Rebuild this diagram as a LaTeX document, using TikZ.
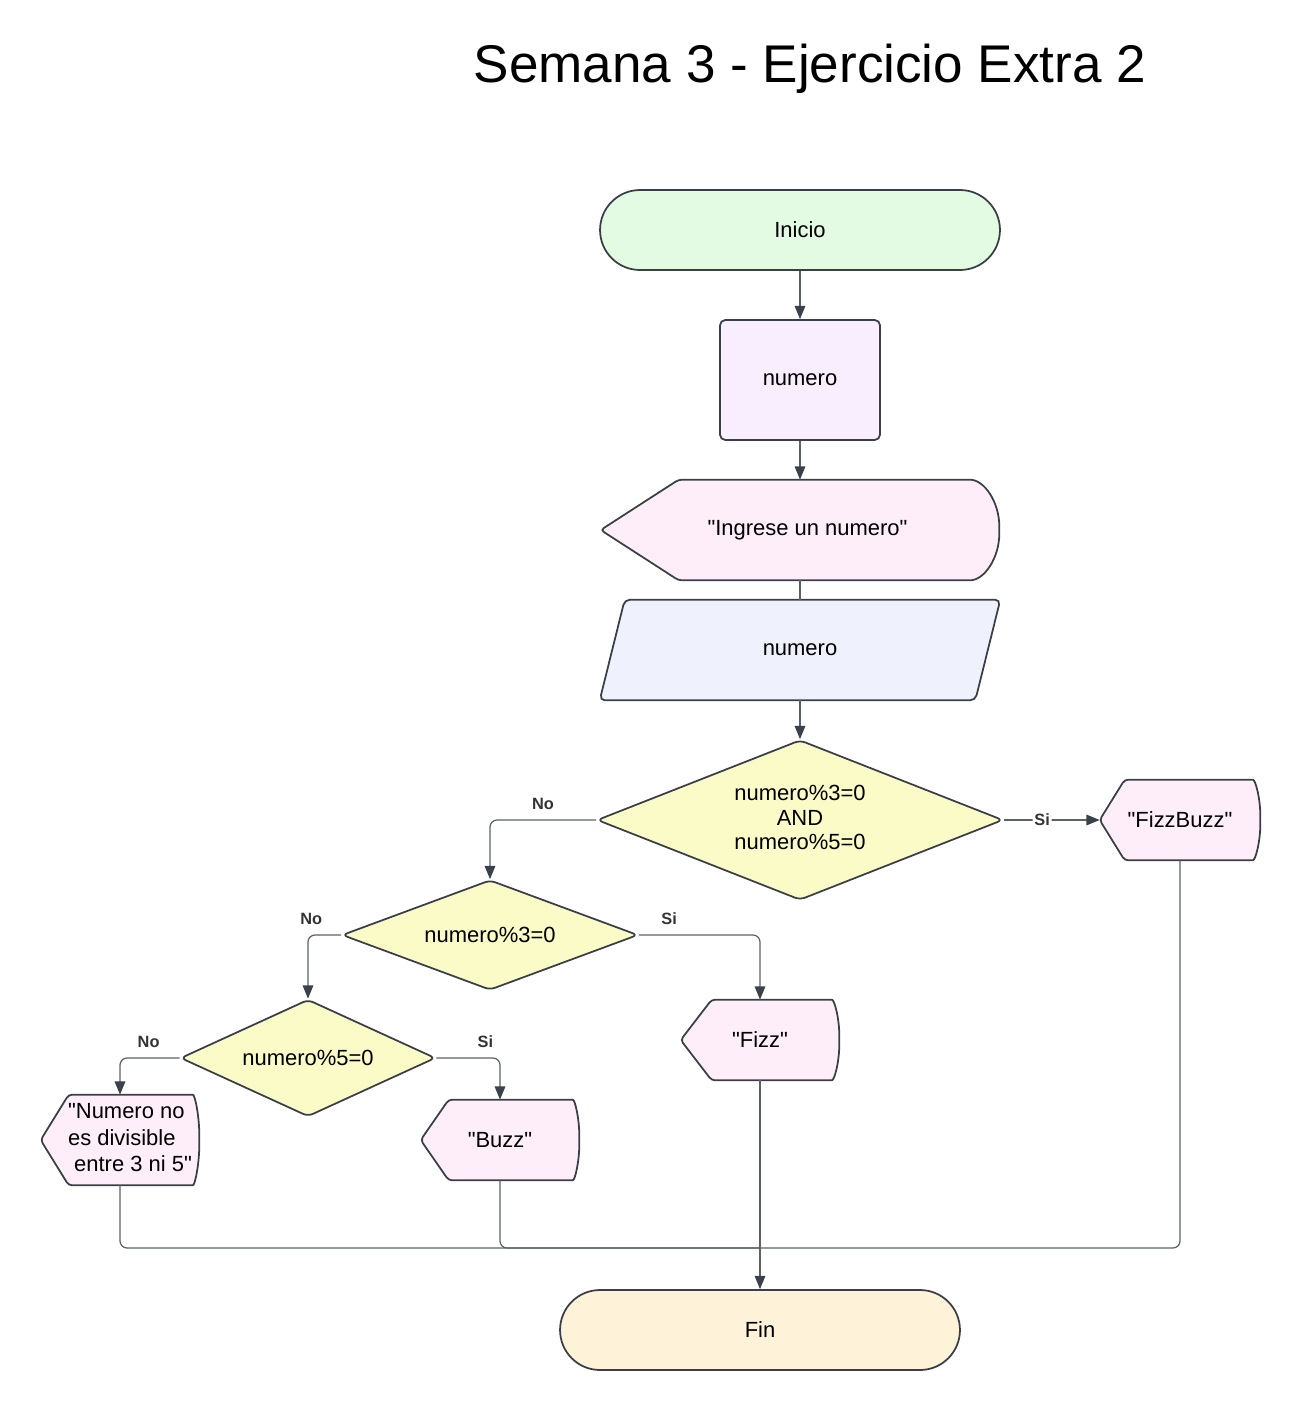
\documentclass[tikz,border=0pt]{standalone}
\usepackage{fontspec}
\setmainfont{Liberation Sans}
\usetikzlibrary{shapes.geometric,arrows.meta,calc,backgrounds}

\definecolor{edgegray}{HTML}{3A3F47}
\definecolor{linegray}{HTML}{5C6168}
\definecolor{tipgray}{HTML}{3A414A}
\definecolor{startgreen}{HTML}{E2FBE2}
\definecolor{varpurple}{HTML}{F8EEFE}
\definecolor{showpink}{HTML}{FEEEF9}
\definecolor{readblue}{HTML}{EFF2FD}
\definecolor{askyellow}{HTML}{FBFBC8}
\definecolor{endcream}{HTML}{FEF2D8}

\newcommand{\qq}{\textquotedbl}

\tikzset{
  every node/.style={font=\fontsize{12.5}{15}\selectfont, inner sep=0pt},
  terminal/.style={rectangle, rounded corners=0.8cm, draw=edgegray, line width=1pt,
    minimum width=8cm, minimum height=1.6cm},
  varbox/.style={rectangle, rounded corners=3pt, draw=edgegray, line width=1pt, fill=varpurple,
    minimum width=3.2cm, minimum height=2.4cm},
  readbox/.style={rectangle, minimum width=8cm, minimum height=2cm},
  readline/.style={draw=edgegray, line width=1pt, fill=readblue, rounded corners=3pt},
  ask/.style={diamond, rounded corners=3pt, draw=edgegray, line width=1pt, fill=askyellow, align=center},
  showbox/.style={rectangle, align=center},
  showline/.style={draw=edgegray, line width=1pt, fill=showpink, rounded corners=2pt},
  conn/.style={draw=linegray, line width=0.7pt, rounded corners=4pt},
  arr/.style={conn, -{Triangle[length=7.5pt, width=6pt, color=tipgray]}},
  answer/.style={font=\fontsize{9.3}{11}\selectfont\bfseries, text=black!80},
}

% outline of a display node: node, tip, bulge
\newcommand{\dispoutline}[3]{%
  \path[showline] (#1.west) -- ([xshift=#2]#1.north west) -- ([xshift=-#3]#1.north east)
    .. controls ([xshift=-0.45*#3]#1.north east) and ($(#1.east)!0.55!(#1.north east)$) .. (#1.east)
    .. controls ($(#1.east)!0.55!(#1.south east)$) and ([xshift=-0.45*#3]#1.south east) .. ([xshift=-#3]#1.south east)
    -- ([xshift=#2]#1.south west) -- cycle;}
% outline of an input node: node, slant
\newcommand{\readoutline}[2]{%
  \path[readline] (#1.south west) -- ([xshift=#2]#1.north west) -- (#1.north east)
    -- ([xshift=-#2]#1.south east) -- cycle;}

\begin{document}
\begin{tikzpicture}[x=0.02cm, y=-0.02cm]
  \useasboundingbox (0,0) rectangle (1300,1410);

  \node (title) at (810,69) {\fontsize{30.2}{36}\selectfont Semana 3 - Ejercicio Extra 2};

  \node[terminal, fill=startgreen] (inicio) at (800,230) {Inicio};
  \node[varbox] (var) at (800,380) {numero};
  \node[showbox, minimum width=7.96cm, minimum height=2cm] (ingrese) at (800,530)
    {\hspace*{0.3cm}\qq Ingrese un numero\qq};
  \node[readbox] (leer) at (800,650) {numero};

  \node[ask, minimum width=8.12cm, minimum height=3.2cm, aspect=2.54] (both) at (800,820)
    {\raisebox{4pt}{\begin{tabular}{@{}c@{}}numero\%3=0\\[-1pt]AND\\[-1pt]numero\%5=0\end{tabular}}};
  \node[showbox, minimum width=3.2cm, minimum height=1.6cm] (fizzbuzz) at (1180,820) {\qq FizzBuzz\qq};

  \node[ask, minimum width=5.92cm, minimum height=2.2cm, aspect=2.69] (tres) at (490,935) {numero\%3=0};
  \node[showbox, minimum width=3.16cm, minimum height=1.6cm] (fizz) at (760,1040) {\qq Fizz\qq};

  \node[ask, minimum width=5.1cm, minimum height=2.34cm, aspect=2.18] (cinco) at (308,1058) {numero\%5=0};
  \node[showbox, minimum width=3.16cm, minimum height=1.8cm] (ninguno) at (120,1140)
    {\hspace*{0.4cm}\begin{tabular}{@{}l@{}}\qq Numero no\\es divisible\\\ entre 3 ni 5\qq\end{tabular}};
  \node[showbox, minimum width=3.16cm, minimum height=1.6cm] (buzz) at (500,1140) {\qq Buzz\qq};

  \node[terminal, fill=endcream] (fin) at (760,1330) {Fin};

  \begin{scope}[on background layer]
    \readoutline{leer}{0.5cm}
    \dispoutline{ingrese}{1.56cm}{0.66cm}
    \dispoutline{fizzbuzz}{0.5cm}{0.22cm}
    \dispoutline{fizz}{0.62cm}{0.22cm}
    \dispoutline{ninguno}{0.56cm}{0.2cm}
    \dispoutline{buzz}{0.56cm}{0.2cm}
  \end{scope}

  % flow
  \draw[arr] (inicio.south) -- (var.north);
  \draw[arr] (var.south) -- (ingrese.north);
  \draw[conn] (ingrese.south) -- (leer.north);
  \draw[arr] (leer.south) -- (both.north);

  \draw[arr] (both.east) -- node[answer, pos=0.4, fill=white, inner sep=1pt] {Si} (fizzbuzz.west);
  \draw[arr] (both.west) -| node[answer, pos=0.25, above=5.5pt] {No} (tres.north);

  \draw[arr] (tres.west) -| node[answer, pos=0.45, above=5.5pt] {No} (cinco.north);
  \draw[arr] (tres.east) -| node[answer, pos=0.125, above=5.5pt] {Si} (fizz.north);

  \draw[arr] (cinco.west) -| node[answer, pos=0.26, above=5.5pt] {No} (ninguno.north);
  \draw[arr] (cinco.east) -| node[answer, pos=0.385, above=5.5pt] {Si} (buzz.north);

  % join to the end
  \coordinate (junta) at (760,1248);
  \draw[conn] (ninguno.south) |- (junta);
  \draw[conn] (buzz.south) |- (junta);
  \draw[conn] (fizzbuzz.south) |- (junta);
  \draw[arr] (fizz.south) -- (fin.north);
\end{tikzpicture}
\end{document}
